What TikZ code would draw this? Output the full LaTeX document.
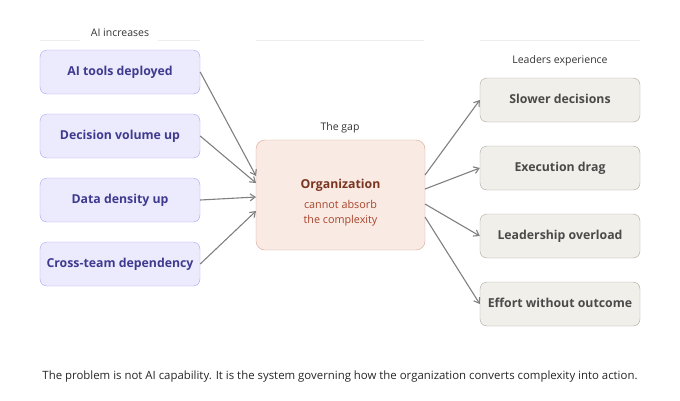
\documentclass[tikz,border=0pt]{standalone}
\usepackage{fontspec}
\setmainfont{Open Sans}
\usetikzlibrary{arrows.meta}
\definecolor{lfill}{HTML}{ECEBFD}\definecolor{ldraw}{HTML}{A9A3F0}\definecolor{ltext}{HTML}{3F3A8F}
\definecolor{cfill}{HTML}{F9EAE4}\definecolor{cdraw}{HTML}{D9A591}\definecolor{ctext}{HTML}{7A3520}\definecolor{csub}{HTML}{A8432A}
\definecolor{rfill}{HTML}{F1EFEA}\definecolor{rdraw}{HTML}{ABA69E}\definecolor{rtext}{HTML}{4A4A4A}
\definecolor{arr}{HTML}{808080}\definecolor{sep}{HTML}{EDEDED}
\begin{document}
\begin{tikzpicture}[x=1pt,y=-1pt,
 box/.style={rounded corners=7pt,minimum width=160pt,minimum height=44pt,font=\fontsize{12.3}{14}\selectfont\bfseries,inner sep=0pt,text height=9pt,text depth=2pt},
 lbox/.style={box,fill=lfill,draw=ldraw,text=ltext},
 rbox/.style={box,fill=rfill,draw=rdraw,text=rtext},
 arw/.style={draw=arr,line width=1.1pt,-{Straight Barb[length=5pt,width=7pt]}},
 ttl/.style={font=\fontsize{10.5}{12}\selectfont,text=black!80}]
\useasboundingbox (0,0) rectangle (680,400);
\draw[sep] (40,40) -- (80,40) (158,40) -- (200,40) (256,40) -- (424,40) (480,40) -- (640,40);
\node[ttl] (t1) at (120,33) {AI increases};
\node[ttl] (t2) at (340,128) {The gap};
\node[ttl] (t3) at (560,61) {Leaders experience};
\node[lbox] (a1) at (120,72) {AI tools deployed};
\node[lbox] (a2) at (120,136) {Decision volume up};
\node[lbox] (a3) at (120,200) {Data density up};
\node[lbox] (a4) at (120,264) {Cross-team dependency};
\node[rounded corners=9pt,minimum width=169pt,minimum height=110pt,fill=cfill,draw=cdraw,inner sep=0pt] (c) at (340.5,195) {};
\node[font=\fontsize{12.3}{14}\selectfont\bfseries,text=ctext] (c1) at (340.5,185) {Organization};
\node[font=\fontsize{10.8}{14.5}\selectfont,text=csub,align=center] (c2) at (340.5,213) {cannot absorb\\the complexity};
\coordinate (i1) at (256,176); \coordinate (i2) at (256,183);
\coordinate (i3) at (256,197); \coordinate (i4) at (256,211);
\coordinate (o1) at (425,175); \coordinate (o2) at (425,189);
\coordinate (o3) at (425,204); \coordinate (o4) at (425,217);
\draw[arw] (a1.east) -- (i1);
\draw[arw] (a2.east) -- (i2);
\draw[arw] (a3.east) -- (i3);
\draw[arw] (a4.east) -- (i4);
\node[rbox] (b1) at (560,100) {Slower decisions};
\node[rbox] (b2) at (560,168) {Execution drag};
\node[rbox] (b3) at (560,236) {Leadership overload};
\node[rbox] (b4) at (560,304) {Effort without outcome};
\draw[arw] (o1) -- (b1.west);
\draw[arw] (o2) -- (b2.west);
\draw[arw] (o3) -- (b3.west);
\draw[arw] (o4) -- (b4.west);
\node[font=\fontsize{11.4}{13}\selectfont,text=black!85] (f) at (340,377) {The problem is not AI capability. It is the system governing how the organization converts complexity into action.};
\end{tikzpicture}
\end{document}
